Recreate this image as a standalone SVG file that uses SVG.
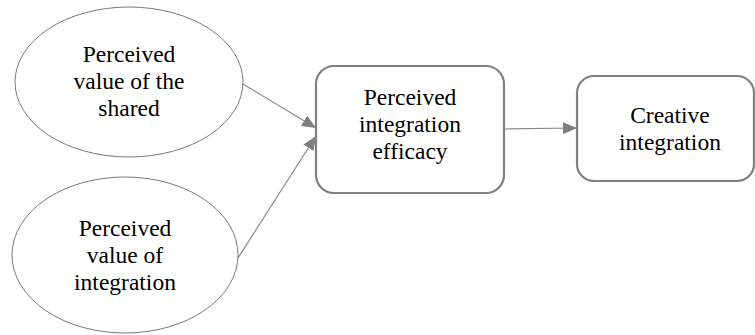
<svg xmlns="http://www.w3.org/2000/svg" width="755" height="335" viewBox="0 0 755 335">
<style>
.ell{fill:#fff;stroke:#7a7a7a;stroke-width:1}
.box{fill:#fff;stroke:#808080;stroke-width:2.2}
.lbl{font-family:"Liberation Serif","Times New Roman",serif;font-size:23.5px;fill:#000;text-anchor:middle}
.con{stroke:#8a8a8a;stroke-width:1.2;fill:none}
</style>
<defs>
<marker id="ah" viewBox="0 0 14 12" refX="14" refY="6" markerWidth="14" markerHeight="12" markerUnits="userSpaceOnUse" orient="auto">
<path d="M0,0 L14,6 L0,12 Z" fill="#7f7f7f"/>
</marker>
</defs>
<rect width="755" height="335" fill="#fff"/>
<g id="connectors">
<line class="con" x1="243" y1="84" x2="316" y2="128" marker-end="url(#ah)"/>
<line class="con" x1="238" y1="258" x2="316" y2="136" marker-end="url(#ah)"/>
<line class="con" x1="505" y1="129" x2="577" y2="128" marker-end="url(#ah)"/>
</g>
<g id="n1">
<ellipse class="ell" cx="129" cy="82" rx="114" ry="75"/>
<text class="lbl" x="129" y="62">Perceived</text>
<text class="lbl" x="129" y="89">value of the</text>
<text class="lbl" x="129" y="116">shared</text>
</g>
<g id="n2">
<ellipse class="ell" cx="125" cy="255" rx="113" ry="78"/>
<text class="lbl" x="125" y="236">Perceived</text>
<text class="lbl" x="125" y="263">value of</text>
<text class="lbl" x="125" y="290">integration</text>
</g>
<g id="n3">
<rect class="box" x="316" y="66" width="188" height="127" rx="18"/>
<text class="lbl" x="410" y="105">Perceived</text>
<text class="lbl" x="410" y="132">integration</text>
<text class="lbl" x="410" y="159">efficacy</text>
</g>
<g id="n4">
<rect class="box" x="577" y="76" width="177" height="105" rx="17"/>
<text class="lbl" x="670" y="123">Creative</text>
<text class="lbl" x="670" y="150">integration</text>
</g>
</svg>
